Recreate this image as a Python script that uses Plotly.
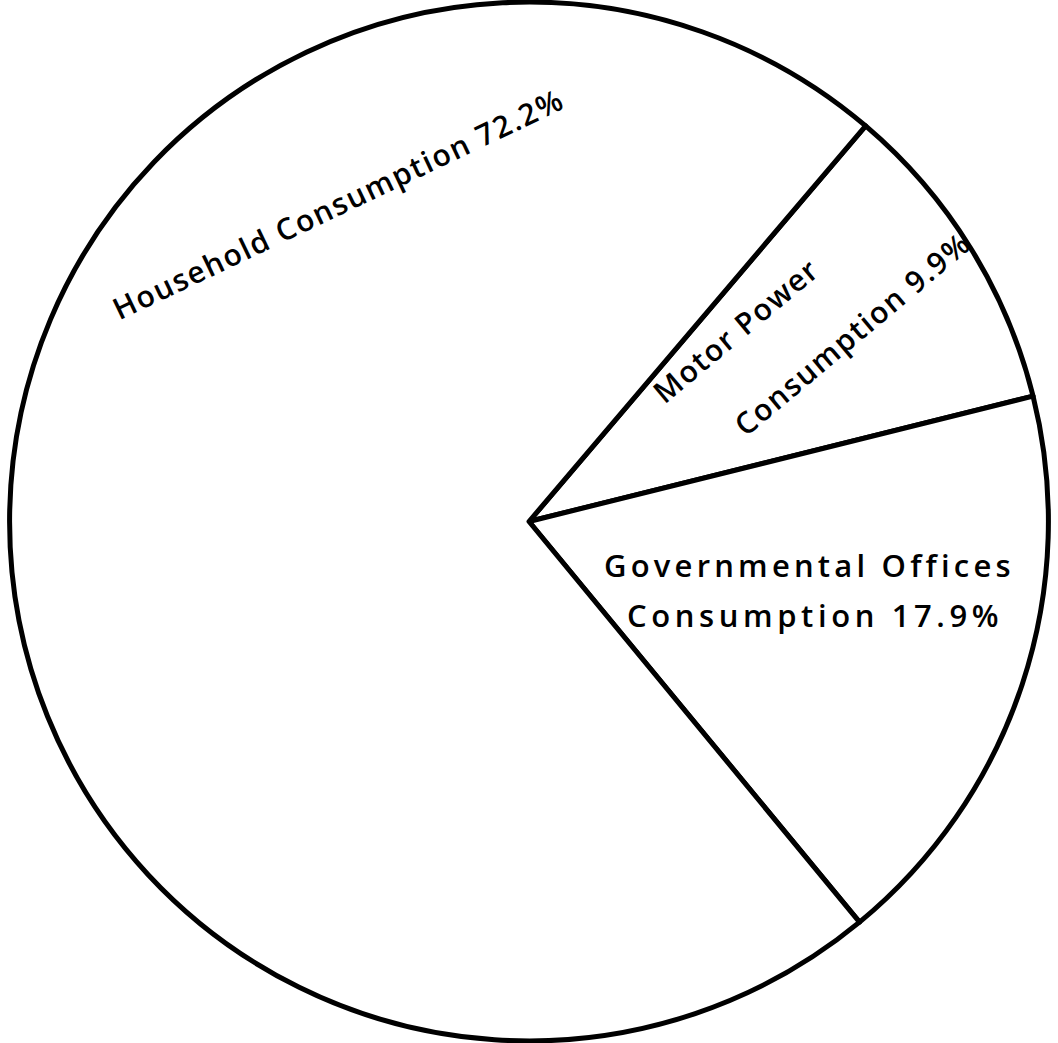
import plotly.graph_objects as go

# Electricity consumption shares by sector (%)
sectors = ["Motor Power Consumption", "Governmental Offices Consumption", "Household Consumption"]
shares = [9.9, 17.9, 72.2]

# Label lines written inside each slice
label_lines = [
    ["Motor Power", "Consumption 9.9%"],
    ["Governmental Offices", "Consumption 17.9%"],
    ["Household Consumption 72.2%"],
]

W, H = 1058, 1043

fig = go.Figure(
    go.Pie(
        labels=sectors,
        values=shares,
        sort=False,
        direction="clockwise",
        rotation=40.4,
        textinfo="none",
        hoverinfo="label+percent",
        marker=dict(colors=["white"] * 3, line=dict(color="black", width=5)),
        domain=dict(x=[0, 1], y=[0.002, 0.998]),
        showlegend=False,
    )
)


def px(x, y):
    return x / W, 1 - y / H


# (pixel centre, rotation, size, letter spacing) for each text line
placements = [
    ((735, 330), -40, 30, 1.5),    # Motor Power
    ((852, 334), -40, 30, 1.6),    # Consumption 9.9%
    ((809, 565), 0, 31, 4.2),      # Governmental Offices
    ((815, 615), 0, 31, 4.6),      # Consumption 17.9%
    ((338, 203), -25.5, 30, 1.6),  # Household Consumption 72.2%
]
texts = [t for lines in label_lines for t in lines]

for text, ((cx, cy), ang, size, spacing) in zip(texts, placements):
    x, y = px(cx, cy)
    fig.add_annotation(
        x=x, y=y, xref="paper", yref="paper",
        text=f'<span style="letter-spacing:{spacing}px">{text}</span>',
        showarrow=False, textangle=ang,
        xanchor="center", yanchor="middle",
        font=dict(family="Open Sans", size=size, color="black", weight=600),
    )

fig.update_layout(
    width=W, height=H,
    margin=dict(l=0, r=0, t=0, b=0),
    paper_bgcolor="white",
    plot_bgcolor="white",
)

fig.write_html("out.html")
